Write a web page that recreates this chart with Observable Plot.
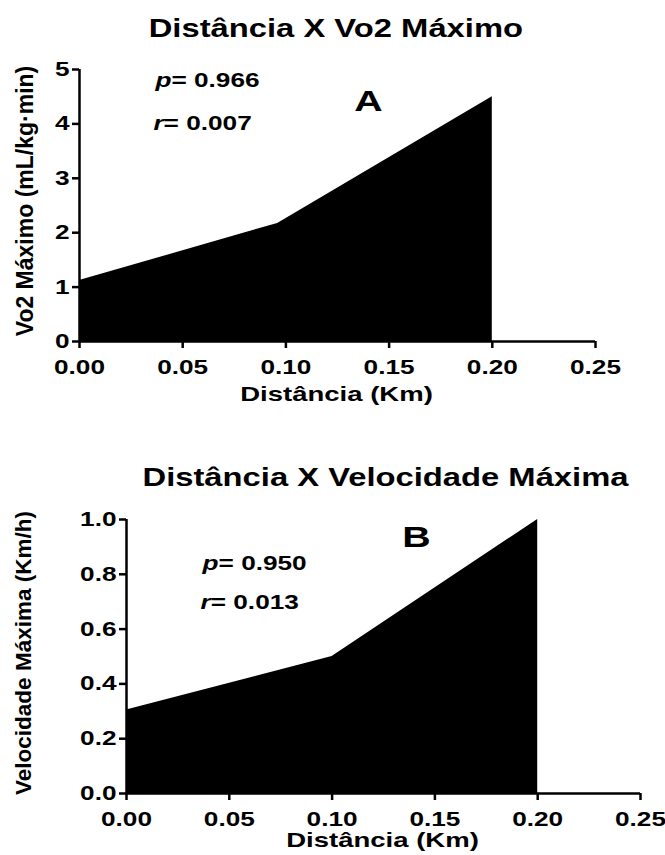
<!DOCTYPE html>
<html><head><meta charset="utf-8">
<script src="https://cdn.jsdelivr.net/npm/d3@7"></script>
<script src="https://cdn.jsdelivr.net/npm/@observablehq/plot@0.6"></script>
<style>
body{margin:0;background:#fff;}
#root{position:relative;width:665px;height:855px;overflow:hidden;font-family:"Liberation Sans",Arial,sans-serif;font-weight:bold;color:#000;}
.h{position:absolute;text-align:center;white-space:nowrap;line-height:1;}
.h span{display:inline-block;transform:scaleX(1.31);}
.v{position:absolute;white-space:nowrap;line-height:1;transform:translate(-50%,-50%) rotate(-90deg);}
.chart{position:absolute;left:0;}
</style></head><body><div id="root"></div>
<script>
// ---- data ----
const titles = ["Distância X Vo2 Máximo", "Distância X Velocidade Máxima"];
const xLabel = "Distância (Km)";
const yLabels = ["Vo2 Máximo (mL/kg·min)", "Velocidade Máxima (Km/h)"];
const xTicks = [0, 0.05, 0.10, 0.15, 0.20, 0.25];
const distA = [0, 0.096, 0.2];
const vo2 = [1.12, 2.17, 4.5];
const yTicksA = [0, 1, 2, 3, 4, 5];
const distB = [0, 0.1, 0.2];
const vel = [0.305, 0.5, 1.0];
const yTicksB = [0, 0.2, 0.4, 0.6, 0.8, 1.0];
const statsA = ["p= 0.966", "r= 0.007"];
const statsB = ["p= 0.950", "r= 0.013"];
const panelLetters = ["A", "B"];

const S = 1.31; // horizontal text stretch
const root = document.getElementById("root");

function addDiv(cls, text, css) {
  const d = document.createElement("div");
  d.className = cls;
  if (cls === "h") { const s = document.createElement("span"); s.textContent = text; d.appendChild(s); }
  else d.textContent = text;
  Object.assign(d.style, css);
  root.appendChild(d);
  return d;
}

function stretchText(svg) {
  svg.querySelectorAll("text").forEach(t => {
    const tr = t.getAttribute("transform");
    if (tr) t.setAttribute("transform", tr + ` scale(${S},1)`);
    else {
      const x = parseFloat(t.getAttribute("x")) || 0;
      t.setAttribute("transform", `translate(${x},0) scale(${S},1) translate(${-x},0)`);
    }
  });
}

function italicFirst(svg) {
  const ns = "http://www.w3.org/2000/svg";
  svg.querySelectorAll("text").forEach(t => {
    const s = t.textContent;
    if (!/^[pr]=/.test(s)) return;
    while (t.firstChild) t.removeChild(t.firstChild);
    const a = document.createElementNS(ns, "tspan");
    a.setAttribute("font-style", "italic");
    a.style.fontStyle = "italic";
    a.textContent = s.slice(0, 1);
    const b = document.createElementNS(ns, "tspan");
    b.textContent = s.slice(1);
    t.appendChild(a); t.appendChild(b);
  });
}

function panel(o) {
  const data = o.xs.map((x, i) => ({x, y: o.ys[i]}));
  const svg = Plot.plot({
    width: 665, height: o.height,
    marginTop: o.mt, marginBottom: o.mb, marginLeft: o.ml, marginRight: o.mr,
    style: {fontFamily: '"Liberation Sans", Arial, sans-serif', fontWeight: "bold", fontSize: "20px", color: "#000", background: "transparent", overflow: "visible"},
    x: {domain: [0, 0.25]},
    y: {domain: o.yDomain},
    marks: [
      Plot.areaY(data, {x: "x", y: "y", fill: "#000"}),
      Plot.ruleY([0], {stroke: "#000", strokeWidth: 2.5}),
      Plot.ruleX([0], {stroke: "#000", strokeWidth: 2.5}),
      Plot.axisX({ticks: xTicks, tickFormat: d3.format(".2f"), tickSize: 7, tickPadding: 11, strokeWidth: 2.5, label: null}),
      Plot.axisY({ticks: o.yTicks, tickFormat: o.yFmt, tickSize: 7, tickPadding: 3, strokeWidth: 2.5, label: null}),
      Plot.text(o.stats, {x: o.statX, y: o.statY, text: d => d, textAnchor: "start", lineAnchor: "bottom", fontSize: 20}),
      Plot.text([o.letter], {x: [o.letterX], y: [o.letterY], text: d => d, lineAnchor: "bottom", fontSize: 30})
    ]
  });
  italicFirst(svg);
  stretchText(svg);
  const w = document.createElement("div");
  w.className = "chart";
  w.style.top = o.top + "px";
  w.appendChild(svg);
  root.appendChild(w);
}

panel({xs: distA, ys: vo2, yDomain: [0, 5], yTicks: yTicksA, yFmt: d3.format("d"),
  top: 50, height: 370, mt: 19, mb: 79, ml: 79, mr: 70,
  stats: statsA, statX: [0.0368, 0.0358], statY: [4.67, 3.88],
  letter: panelLetters[0], letterX: 0.14, letterY: 4.23});

panel({xs: distB, ys: vel, yDomain: [0, 1], yTicks: yTicksB, yFmt: d3.format(".1f"),
  top: 500, height: 355, mt: 19, mb: 62, ml: 126, mr: 25,
  stats: statsB, statX: [0.037, 0.036], statY: [0.814, 0.675],
  letter: panelLetters[1], letterX: 0.141, letterY: 0.898});

addDiv("h", titles[0], {left: "36px", width: "600px", top: "16px", fontSize: "25px"});
addDiv("h", titles[1], {left: "85px", width: "600px", top: "465px", fontSize: "25px"});
addDiv("h", xLabel, {left: "37px", width: "600px", top: "383px", fontSize: "21px"});
addDiv("h", xLabel, {left: "83px", width: "600px", top: "829px", fontSize: "21px"});
addDiv("v", yLabels[0], {left: "25px", top: "201px", fontSize: "23px"});
addDiv("v", yLabels[1], {left: "24px", top: "653px", fontSize: "22.5px"});
</script></body></html>
